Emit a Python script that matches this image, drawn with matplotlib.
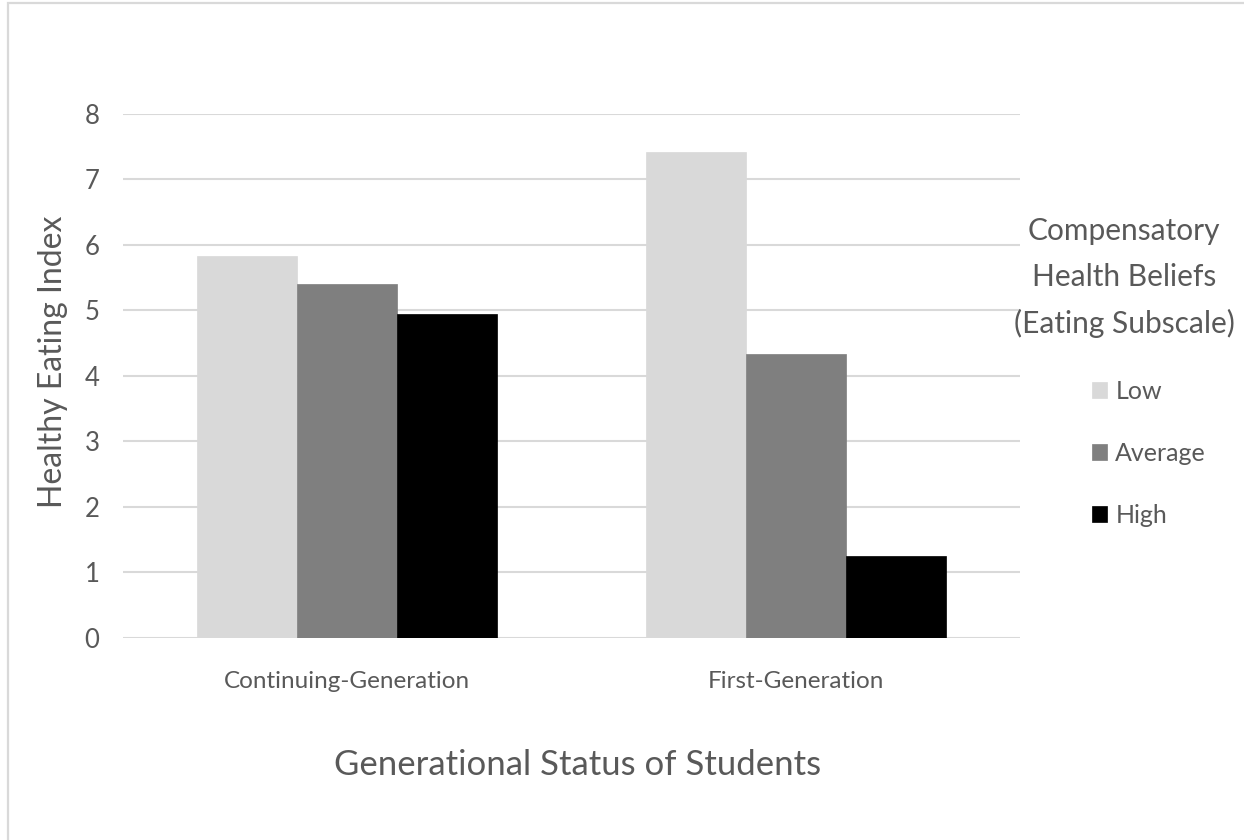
import numpy as np
import matplotlib.pyplot as plt
from matplotlib.patches import Rectangle

# Healthy Eating Index by generational status and CHB level
groups = ['Continuing-Generation', 'First-Generation']
levels = ['Low', 'Average', 'High']
low = [5.83, 7.42]
average = [5.41, 4.33]
high = [4.95, 1.25]
colors = ['#d9d9d9', '#7f7f7f', '#000000']

txt = '#595959'
plt.rcParams['font.family'] = ['Lato', 'DejaVu Sans']

W, H = 1244, 840
fig = plt.figure(figsize=(W / 100, H / 100), dpi=100)
ax = fig.add_axes([123 / W, 1 - 637.7 / H, 897 / W, 523.7 / H])

x = np.arange(len(groups))
w = 0.2227
bars = []
for i, (vals, lab) in enumerate(zip([low, average, high], levels)):
    b = ax.bar(x + (i - 1) * w, vals, width=w, color=colors[i], label=lab,
               edgecolor=colors[i], linewidth=0.5)
    bars.append(b)

ax.set_xlim(-0.5, 1.5)
ax.set_ylim(0, 8)
ax.set_yticks(range(0, 9))
ax.set_xticks(x, groups)
ax.yaxis.grid(True, color='#d9d9d9', linewidth=1.5)
ax.set_axisbelow(True)
for s in ax.spines.values():
    s.set_visible(False)
ax.tick_params(axis='y', length=0, pad=17, labelsize=18.5, labelcolor=txt)
ax.tick_params(axis='x', length=0, pad=24, labelsize=17.5, labelcolor=txt)

fig.text(578 / W, 1 - 765 / H, 'Generational Status of Students',
         ha='center', va='center', fontsize=25, color=txt)
fig.text(53 / W, 1 - 362 / H, 'Healthy Eating Index', rotation=90,
         ha='center', va='center', fontsize=23, color=txt)

title_lines = ['Compensatory', 'Health Beliefs', '(Eating Subscale)']
for k, line in enumerate(title_lines):
    fig.text(1124 / W, 1 - (240 + 46.5 * k) / H, line, ha='center',
             va='baseline', fontsize=21.5, color=txt)

leg = ax.legend(bars, levels, loc='upper left', frameon=False,
                bbox_to_anchor=(1069 / W, 1 - 357 / H), bbox_transform=fig.transFigure,
                fontsize=18, labelcolor=txt, handlelength=0.6, handleheight=0.6,
                handletextpad=0.35, labelspacing=1.57)

# light frame around the chart area
fig.add_artist(Rectangle((8 / W, -0.05), 1.1, 1 - 3 / H + 0.05, transform=fig.transFigure,
                         fill=False, edgecolor='#d9d9d9', linewidth=1.6))

fig.savefig('out.png', dpi=100)
